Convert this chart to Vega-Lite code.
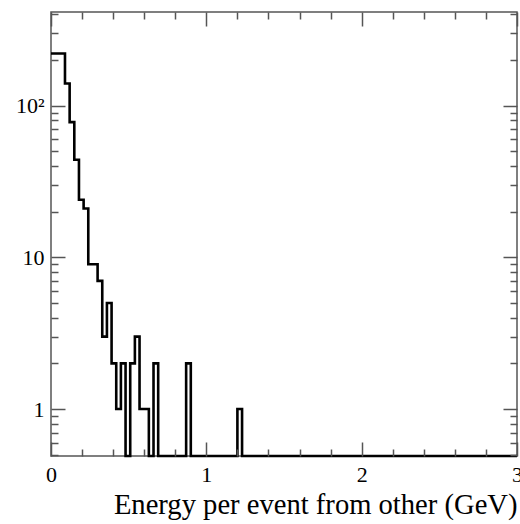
{
  "$schema": "https://vega.github.io/schema/vega-lite/v6.json",
  "autosize": "none",
  "width": 466,
  "height": 444,
  "padding": {"left": 51, "top": 12, "right": 3, "bottom": 68},
  "background": "white",
  "config": {"view": {"stroke": "#555", "strokeWidth": 1.5}},
  "data": {"values": [
    {"e": 0.00, "n": 221}, {"e": 0.03, "n": 221}, {"e": 0.06, "n": 221},
    {"e": 0.09, "n": 140}, {"e": 0.12, "n": 78}, {"e": 0.15, "n": 44},
    {"e": 0.18, "n": 24}, {"e": 0.21, "n": 21}, {"e": 0.24, "n": 9},
    {"e": 0.27, "n": 9}, {"e": 0.30, "n": 7}, {"e": 0.33, "n": 3},
    {"e": 0.36, "n": 5}, {"e": 0.39, "n": 2}, {"e": 0.42, "n": 1},
    {"e": 0.45, "n": 2}, {"e": 0.48, "n": 0}, {"e": 0.51, "n": 2},
    {"e": 0.54, "n": 3}, {"e": 0.57, "n": 1}, {"e": 0.60, "n": 1},
    {"e": 0.63, "n": 0}, {"e": 0.66, "n": 2}, {"e": 0.69, "n": 0},
    {"e": 0.72, "n": 0}, {"e": 0.75, "n": 0}, {"e": 0.78, "n": 0},
    {"e": 0.81, "n": 0}, {"e": 0.84, "n": 0}, {"e": 0.87, "n": 2},
    {"e": 0.90, "n": 0}, {"e": 0.93, "n": 0}, {"e": 0.96, "n": 0},
    {"e": 0.99, "n": 0}, {"e": 1.02, "n": 0}, {"e": 1.05, "n": 0},
    {"e": 1.08, "n": 0}, {"e": 1.11, "n": 0}, {"e": 1.14, "n": 0},
    {"e": 1.17, "n": 0}, {"e": 1.20, "n": 1}, {"e": 1.23, "n": 0},
    {"e": 3.00, "n": 0}
  ]},
  "layer": [
    {
      "mark": {"type": "line", "interpolate": "step-after", "color": "black", "strokeWidth": 2.6, "clip": false},
      "encoding": {
        "x": {
          "field": "e", "type": "quantitative",
          "scale": {"domain": [0, 3], "nice": false, "zero": false},
          "axis": {
            "orient": "bottom",
            "zindex": 1,
            "domain": false,
            "values": [0, 1, 2, 3],
            "title": "Energy per event from other (GeV)",
            "grid": false,
            "ticks": true,
            "tickSize": -14,
            "labelExpr": "'' + datum.value",
            "labelPadding": 22,
            "labelFlush": false,
            "labelBound": false,
            "labelOverlap": false,
            "labelFont": "Liberation Serif",
            "labelFontSize": 22,
            "labelColor": "black",
            "tickColor": "#555",
            "tickWidth": 1.5,
            "titleFont": "Liberation Serif",
            "titleFontSize": 28.6,
            "titleFontWeight": "normal",
            "titleColor": "black",
            "titleAnchor": "end",
            "titleAlign": "right",
            "titleBaseline": "alphabetic",
            "titleX": 466,
            "titleY": 57
          }
        },
        "y": {
          "field": "n", "type": "quantitative",
          "scale": {"type": "log", "domain": [0.49, 415], "nice": false, "clamp": true},
          "axis": {
            "orient": "left",
            "zindex": 1,
            "domain": false,
            "values": [1, 10, 100],
            "title": null,
            "grid": false,
            "ticks": true,
            "tickSize": -14,
            "labelExpr": "datum.value === 100 ? '10²' : datum.value === 10 ? '10' : '1'",
            "labelPadding": 21,
            "labelFlush": false,
            "labelBound": false,
            "labelOverlap": false,
            "labelFont": "Liberation Serif",
            "labelFontSize": 22,
            "labelColor": "black",
            "tickColor": "#555",
            "tickWidth": 1.5
          }
        }
      }
    },
    {
      "mark": {"type": "line", "interpolate": "step-after", "strokeOpacity": 0},
      "encoding": {
        "x": {
          "field": "e", "type": "quantitative",
          "axis": {
            "orient": "top", "zindex": 1, "domain": false, "values": [0, 1, 2, 3],
            "title": null, "grid": false, "labels": false, "ticks": true,
            "tickSize": -14, "tickColor": "#555", "tickWidth": 1.5
          }
        },
        "y": {
          "field": "n", "type": "quantitative",
          "axis": {
            "orient": "right", "zindex": 1, "domain": false, "values": [1, 10, 100],
            "title": null, "grid": false, "labels": false, "ticks": true,
            "tickSize": -14, "tickColor": "#555", "tickWidth": 1.5
          }
        }
      }
    },
    {
      "mark": {"type": "line", "interpolate": "step-after", "strokeOpacity": 0},
      "encoding": {
        "x": {
          "field": "e", "type": "quantitative",
          "axis": {
            "orient": "bottom", "zindex": 1, "domain": false,
            "values": [0.2, 0.4, 0.6, 0.8, 1.2, 1.4, 1.6, 1.8, 2.2, 2.4, 2.6, 2.8],
            "title": null, "grid": false, "labels": false, "ticks": true,
            "tickSize": -7, "tickColor": "#555", "tickWidth": 1.5
          }
        },
        "y": {
          "field": "n", "type": "quantitative",
          "axis": {
            "orient": "left", "zindex": 1, "domain": false,
            "values": [0.5, 0.6, 0.7, 0.8, 0.9, 2, 3, 4, 5, 6, 7, 8, 9, 20, 30, 40, 50, 60, 70, 80, 90, 200, 300, 400],
            "title": null, "grid": false, "labels": false, "ticks": true,
            "tickSize": -7, "tickColor": "#555", "tickWidth": 1.5
          }
        }
      }
    },
    {
      "mark": {"type": "line", "interpolate": "step-after", "strokeOpacity": 0},
      "encoding": {
        "x": {
          "field": "e", "type": "quantitative",
          "axis": {
            "orient": "top", "zindex": 1, "domain": false,
            "values": [0.2, 0.4, 0.6, 0.8, 1.2, 1.4, 1.6, 1.8, 2.2, 2.4, 2.6, 2.8],
            "title": null, "grid": false, "labels": false, "ticks": true,
            "tickSize": -7, "tickColor": "#555", "tickWidth": 1.5
          }
        },
        "y": {
          "field": "n", "type": "quantitative",
          "axis": {
            "orient": "right", "zindex": 1, "domain": false,
            "values": [0.5, 0.6, 0.7, 0.8, 0.9, 2, 3, 4, 5, 6, 7, 8, 9, 20, 30, 40, 50, 60, 70, 80, 90, 200, 300, 400],
            "title": null, "grid": false, "labels": false, "ticks": true,
            "tickSize": -7, "tickColor": "#555", "tickWidth": 1.5
          }
        }
      }
    }
  ]
}
